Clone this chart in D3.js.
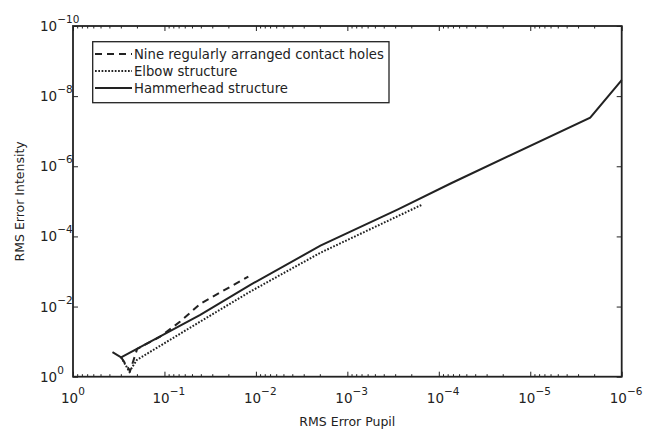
<!DOCTYPE html>
<html>
<head>
<meta charset="utf-8">
<script src="https://unpkg.com/d3@7/dist/d3.min.js"></script>
<style>
  body { margin: 0; background: #fff; }
  svg { font-family: "DejaVu Sans", Verdana, sans-serif; }
</style>
</head>
<body>
<svg id="chart" width="648" height="432"></svg>
<script>
// values
const seriesNames = ["Nine regularly arranged contact holes", "Elbow structure", "Hammerhead structure"]

const pupilHoles = [0.298, 0.2376, 0.199, 0.1114, 0.0673, 0.0406, 0.0121]
const intensityHoles = [0.279, 0.687, 0.162, 0.072, 0.0268, 0.00837, 0.00139]

const pupilElbow = [0.298, 0.242, 0.2006, 0.0406, 0.0115, 1.97e-3, 1.52e-4]
const intensityElbow = [0.279, 0.72, 0.333, 0.0268, 0.00373, 2.92e-4, 1.24e-5]

const pupilHammer = [0.37, 0.298, 0.0406, 0.0115, 1.97e-3, 2.83e-4, 7.43e-5, 2.21e-6, 1e-6]
const intensityHammer = [0.2, 0.279, 0.0173, 0.0024, 1.84e-4, 1.73e-5, 3.1e-6, 4.1e-8, 3.5e-9]

const xExponents = [0, -1, -2, -3, -4, -5, -6]
const yExponents = [0, -2, -4, -6, -8, -10]

const plotLeft = 73, plotRight = 621.7, plotTop = 26, plotBottom = 376.7
const ink = "#222"

const svg = d3.select("#chart")

const x = d3.scaleLog().domain([1, 1e-6]).range([plotLeft, plotRight])
const y = d3.scaleLog().domain([1, 1e-10]).range([plotBottom, plotTop])

// minor ticks 2..9 in every decade
let minorX = []
for (let e = -6; e < 0; e++) {
    for (let k = 2; k <= 9; k++) minorX.push(k * Math.pow(10, e))
}
const majorX = xExponents.map(e => Math.pow(10, e))
const majorY = yExponents.map(e => Math.pow(10, e))

function styleAxis(g){
    g.selectAll("path").remove()
    g.selectAll("line").attr("stroke", ink).attr("stroke-width", 1)
    g.selectAll("text").remove()
}

svg.append("g").attr("transform", `translate(0,${plotBottom})`)
    .call(d3.axisBottom(x).tickValues(majorX).tickSize(-5).tickFormat(""))
    .call(styleAxis)
svg.append("g").attr("transform", `translate(0,${plotBottom})`)
    .call(d3.axisBottom(x).tickValues(minorX).tickSize(-2.5).tickFormat(""))
    .call(styleAxis)
svg.append("g").attr("transform", `translate(0,${plotTop})`)
    .call(d3.axisTop(x).tickValues(majorX).tickSize(-5).tickFormat(""))
    .call(styleAxis)
svg.append("g").attr("transform", `translate(0,${plotTop})`)
    .call(d3.axisTop(x).tickValues(minorX).tickSize(-2.5).tickFormat(""))
    .call(styleAxis)
svg.append("g").attr("transform", `translate(${plotLeft},0)`)
    .call(d3.axisLeft(y).tickValues(majorY).tickSize(-5).tickFormat(""))
    .call(styleAxis)
svg.append("g").attr("transform", `translate(${plotRight},0)`)
    .call(d3.axisRight(y).tickValues(majorY).tickSize(-5).tickFormat(""))
    .call(styleAxis)

// frame
svg.append("rect")
    .attr("x", plotLeft).attr("y", plotTop)
    .attr("width", plotRight - plotLeft).attr("height", plotBottom - plotTop)
    .attr("fill", "none").attr("stroke", ink).attr("stroke-width", 1.8)

// tick labels 10^n
function powerLabel(sel, e){
    sel.append("tspan").text("10")
    sel.append("tspan").attr("font-size", 10.5).attr("dy", -8)
        .text(e === 0 ? "0" : "\u2212" + Math.abs(e))
}

xExponents.forEach(e => {
    const t = svg.append("text")
        .attr("x", x(Math.pow(10, e)) - 12)
        .attr("y", 403)
        .attr("font-size", 13.5)
        .attr("fill", ink)
    powerLabel(t, e)
})

yExponents.forEach(e => {
    const t = svg.append("text")
        .attr("x", 40)
        .attr("y", y(Math.pow(10, e)) + 5)
        .attr("font-size", 13.5)
        .attr("fill", ink)
    powerLabel(t, e)
})

svg.append("text")
    .attr("x", (plotLeft + plotRight) / 2).attr("y", 426)
    .attr("text-anchor", "middle").attr("font-size", 12.5).attr("fill", ink)
    .text("RMS Error Pupil")

svg.append("text")
    .attr("transform", `translate(24,${(plotTop + plotBottom) / 2}) rotate(-90)`)
    .attr("text-anchor", "middle").attr("font-size", 12.5).attr("fill", ink)
    .text("RMS Error Intensity")

// curves
const line = d3.line().x(d => x(d[0])).y(d => y(d[1]))
const dashes = ["7,5", "1.7,1.6", null]
const series = [
    d3.zip(pupilHoles, intensityHoles),
    d3.zip(pupilElbow, intensityElbow),
    d3.zip(pupilHammer, intensityHammer)
]

svg.append("g").selectAll("path")
    .data(series)
    .enter().append("path")
    .attr("d", line)
    .attr("fill", "none")
    .attr("stroke", ink)
    .attr("stroke-width", 2)
    .attr("stroke-dasharray", (d, i) => dashes[i])

// legend
const legend = svg.append("g")
legend.append("rect")
    .attr("x", 92.7).attr("y", 41.7)
    .attr("width", 296.3).attr("height", 61)
    .attr("fill", "#fff").attr("stroke", ink).attr("stroke-width", 1.3)

seriesNames.forEach((name, i) => {
    const ly = 54 + i * 17
    legend.append("line")
        .attr("x1", 95).attr("x2", 132)
        .attr("y1", ly).attr("y2", ly)
        .attr("stroke", ink).attr("stroke-width", 2)
        .attr("stroke-dasharray", dashes[i])
    legend.append("text")
        .attr("x", 134).attr("y", ly + 5)
        .attr("font-size", 13.2).attr("fill", ink)
        .text(name)
})
</script>
</body>
</html>
